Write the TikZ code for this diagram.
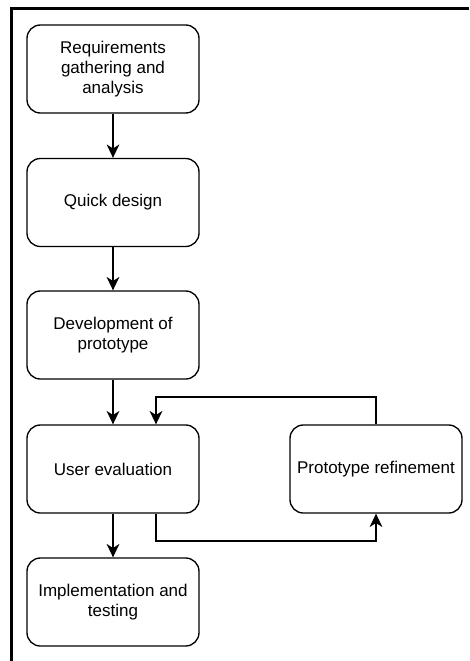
\documentclass[tikz,border=0pt]{standalone}
\usepackage{fontspec}
\setmainfont{Liberation Sans}
\usetikzlibrary{arrows.meta}

\begin{document}
\begin{tikzpicture}[x=0.75pt, y=-0.75pt,
    stage/.style = {draw, line width = 1pt,
        rounded corners = 10pt,
        minimum width = 129pt,
        minimum height = 66pt,
        align = center,
        font = \fontsize{12.75}{15}\selectfont
    },
    flow/.style = {line width = 1pt,
        -{Stealth[length = 10pt, width = 9.5pt, inset = 3pt]}
    }
]
    \useasboundingbox (0,0) rectangle (469,661);
    % frame on top and left
    \draw [line width = 2.25pt] (11.5,661) -- (11.5,8.5) -- (469,8.5);

    \draw (113,69) node(R) [stage]
    {Requirements \\ gathering and \\ analysis};
    \draw (113,202.5) node(Q) [stage] {Quick design};
    \draw (113,335) node(D) [stage]
    {Development of \\ prototype};
    \draw (113,469) node(U) [stage] {User evaluation};
    \draw (113,602) node(I) [stage]
    {Implementation and \\ testing};
    \draw (376,469) node(P) [stage] {Prototype refinement};

    \draw [flow] (R) -- (Q);
    \draw [flow] (Q) -- (D);
    \draw [flow] (D) -- (U);
    \draw [flow] (U) -- (I);

    % loop between evaluation and refinement
    \coordinate (T) at (156,397);
    \coordinate (B) at (156,541);
    \draw [flow] (P.north) |- (T) -- (T |- U.north);
    \draw [flow] (T |- U.south) -- (B) -| (P.south);
\end{tikzpicture}
\end{document}
